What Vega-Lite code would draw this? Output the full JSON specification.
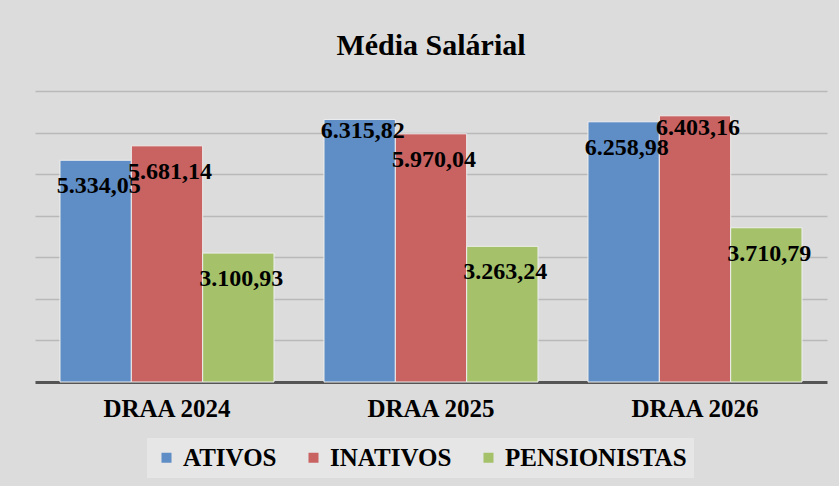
{
  "$schema": "https://vega.github.io/schema/vega-lite/v6.json",
  "autosize": {"type": "none"},
  "width": 792,
  "height": 291,
  "padding": {"left": 35, "top": 91, "right": 12, "bottom": 104},
  "background": "#dcdcdc",
  "title": {
    "text": "Média Salárial",
    "font": "Liberation Serif",
    "fontSize": 30,
    "fontWeight": "bold",
    "color": "#000000",
    "anchor": "middle",
    "offset": 30
  },
  "data": {
    "values": [
      {"ano": "DRAA 2024", "grupo": "ATIVOS", "valor": 5334.05},
      {"ano": "DRAA 2024", "grupo": "INATIVOS", "valor": 5681.14},
      {"ano": "DRAA 2024", "grupo": "PENSIONISTAS", "valor": 3100.93},
      {"ano": "DRAA 2025", "grupo": "ATIVOS", "valor": 6315.82},
      {"ano": "DRAA 2025", "grupo": "INATIVOS", "valor": 5970.04},
      {"ano": "DRAA 2025", "grupo": "PENSIONISTAS", "valor": 3263.24},
      {"ano": "DRAA 2026", "grupo": "ATIVOS", "valor": 6258.98},
      {"ano": "DRAA 2026", "grupo": "INATIVOS", "valor": 6403.16},
      {"ano": "DRAA 2026", "grupo": "PENSIONISTAS", "valor": 3710.79}
    ]
  },
  "encoding": {
    "x": {
      "field": "ano",
      "type": "nominal",
      "scale": {"paddingInner": 0.1894, "paddingOuter": 0.0947},
      "axis": {
        "title": null,
        "labelAngle": 0,
        "labelFont": "Liberation Serif",
        "labelFontWeight": "bold",
        "labelFontSize": 25,
        "labelColor": "#000000",
        "labelPadding": 14,
        "ticks": false,
        "domainColor": "#555555",
        "domainWidth": 3,
        "grid": false
      }
    },
    "xOffset": {
      "field": "grupo",
      "type": "nominal",
      "scale": {"paddingInner": 0, "paddingOuter": 0}
    },
    "y": {
      "field": "valor",
      "type": "quantitative",
      "scale": {"domain": [0, 7000], "nice": false},
      "axis": {
        "title": null,
        "labels": false,
        "ticks": false,
        "domain": false,
        "values": [1000, 2000, 3000, 4000, 5000, 6000, 7000],
        "grid": true,
        "gridColor": "#b9b9b9",
        "gridWidth": 1.5
      }
    }
  },
  "layer": [
    {
      "mark": {"type": "bar", "stroke": "#eeeeee", "strokeWidth": 1},
      "encoding": {
        "color": {
          "field": "grupo",
          "type": "nominal",
          "scale": {
            "domain": ["ATIVOS", "INATIVOS", "PENSIONISTAS"],
            "range": ["#5f8dc6", "#c86362", "#a5c26a"]
          },
          "legend": {
            "title": null,
            "orient": "none",
            "legendX": 112,
            "legendY": 347,
            "direction": "horizontal",
            "symbolType": "square",
            "symbolSize": 100,
            "symbolStrokeWidth": 0,
            "labelFont": "Liberation Serif",
            "labelFontWeight": "bold",
            "labelFontSize": 25,
            "labelColor": "#000000",
            "labelLimit": 0,
            "labelOffset": 4,
            "columnPadding": 24,
            "fillColor": "#e6e6e6",
            "padding": 7
          }
        }
      }
    },
    {
      "transform": [{"filter": "datum.valor > 6300"}],
      "mark": {
        "type": "text",
        "font": "Liberation Serif",
        "fontWeight": "bold",
        "fontSize": 24,
        "color": "#000000",
        "baseline": "middle",
        "dy": 12,
        "dx": 3
      },
      "encoding": {
        "text": {"field": "valor", "type": "quantitative", "format": ",.2f"}
      }
    },
    {
      "transform": [{"filter": "datum.valor <= 6300"}],
      "mark": {
        "type": "text",
        "font": "Liberation Serif",
        "fontWeight": "bold",
        "fontSize": 24,
        "color": "#000000",
        "baseline": "middle",
        "dy": 26,
        "dx": 3
      },
      "encoding": {
        "text": {"field": "valor", "type": "quantitative", "format": ",.2f"}
      }
    }
  ],
  "config": {
    "view": {"stroke": null},
    "locale": {
      "number": {
        "decimal": ",",
        "thousands": ".",
        "grouping": [3],
        "currency": ["R$", ""]
      }
    }
  }
}
